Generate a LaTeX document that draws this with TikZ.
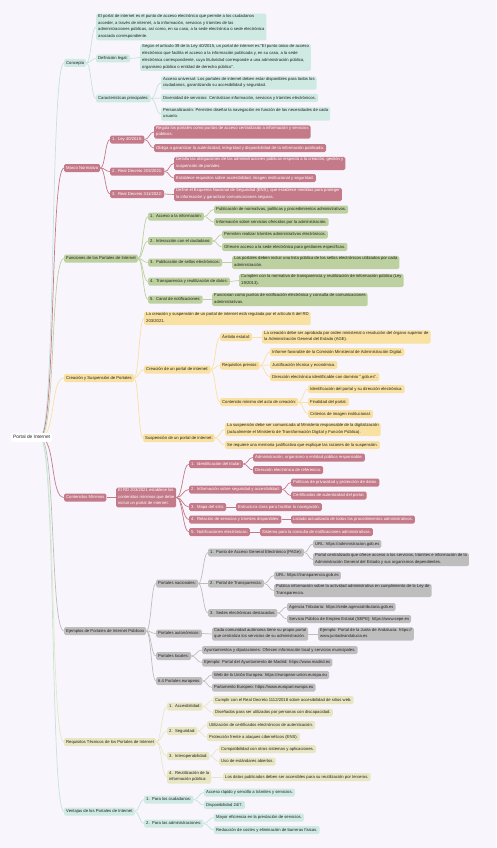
\documentclass[tikz,border=0pt]{standalone}
\usepackage{fontspec}
\setmainfont{Liberation Sans}
\usetikzlibrary{calc,backgrounds}
\definecolor{bgc}{HTML}{F8F6FC}
\definecolor{txt}{HTML}{222222}
\definecolor{tealf}{HTML}{CFE9E3}
\definecolor{teale}{HTML}{C3E4DD}
\definecolor{redf}{HTML}{C47A89}
\definecolor{greenf}{HTML}{BDD09F}
\definecolor{yellowf}{HTML}{F8E1A2}
\definecolor{grayf}{HTML}{BEBEBE}
\definecolor{khakif}{HTML}{E9E6C4}
\newcommand\lnk[3]{\draw[#1] let \p1=(#2.east), \p2=(#3.west) in (\p1) .. controls ({(\x1+\x2)/2},\y1) and ({(\x1+\x2)/2},\y2) .. (\p2);}
\newcommand\rlnk[2]{\draw[#1] let \p2=(#2.west) in (40,437.5) .. controls (56,437.5) and (50,\y2) .. (\p2);}
\begin{document}
\begin{tikzpicture}[x=1pt,y=-1pt,
  box/.style={anchor=west, align=left, rounded corners=1.5pt, inner xsep=2pt, inner ysep=0.6pt,
    font=\fontsize{4.2}{6.8}\selectfont, text=txt, execute at begin node=\strut, execute at end node=\strut},
  tl/.style={box, fill=tealf},
  rd/.style={box, fill=redf, text=white},
  gr/.style={box, fill=greenf},
  yl/.style={box, fill=yellowf},
  gy/.style={box, fill=grayf},
  kh/.style={box, fill=khakif},
  et/.style={draw=teale, line width=0.7pt},
  er/.style={draw=redf, line width=0.7pt},
  eg/.style={draw=greenf, line width=0.7pt},
  ey/.style={draw=yellowf, line width=0.7pt},
  ea/.style={draw=grayf, line width=0.7pt},
  ek/.style={draw=khakif, line width=0.7pt}]
\useasboundingbox (0,0) rectangle (496,848);
% root
\node[box, fill=white, font=\fontsize{4.8}{6.8}\selectfont, inner ysep=1pt] (root) at (11,437.5) {Portal de Internet};
% level 1
\node[tl] (c1) at (64,63) {Concepto};
\node[rd] (m1) at (64,168) {Marco Normativo};
\node[gr] (f1) at (64,258.5) {Funciones de los Portales de Internet};
\node[yl] (s1) at (64,378) {Creación y Suspensión de Portales};
\node[rd] (k1) at (64,497.5) {Contenidos Mínimos};
\node[gy] (e1) at (64,631) {Ejemplos de Portales de Internet Públicos};
\node[kh] (r1) at (64,742) {Requisitos Técnicos de los Portales de Internet};
\node[tl] (v1) at (64,811.5) {Ventajas de los Portales de Internet};
% Concepto
\node[tl] (c11) at (96,27) {El portal de internet es el punto de acceso electrónico que permite a los ciudadanos\\acceder, a través de internet, a la información, servicios y trámites de las\\administraciones públicas, así como, en su caso, a la sede electrónica o sede electrónica\\asociada correspondiente.};
\node[tl] (c12) at (96,58.5) {Definición legal:};
\node[tl] (c121) at (140,57.5) {Según el artículo 39 de la Ley 40/2015, un portal de internet es:"El punto único de acceso\\electrónico que facilita el acceso a la información publicada y, en su caso, a la sede\\electrónica correspondiente, cuya titularidad corresponde a una administración pública,\\organismo público o entidad de derecho público".};
\node[tl] (c13) at (96,98.5) {Características principales:};
\node[tl] (c131) at (161,83) {Acceso universal: Los portales de internet deben estar disponibles para todos los\\ciudadanos, garantizando su accesibilidad y seguridad.};
\node[tl] (c132) at (161,98) {Diversidad de servicios: Centralizan información, servicios y trámites electrónicos.};
\node[tl] (c133) at (161,114) {Personalización: Permiten diseñar la navegación en función de las necesidades de cada\\usuario.};
% Marco
\node[rd] (m11) at (110,139.5) {1.\ \ Ley 40/2015:};
\node[rd] (m111) at (154,132) {Regula los portales como puntos de acceso centralizado a información y servicios\\públicos.};
\node[rd] (m112) at (154,148) {Obliga a garantizar la autenticidad, integridad y disponibilidad de la información publicada.};
\node[rd] (m12) at (110,171.5) {2.\ \ Real Decreto 203/2021:};
\node[rd] (m121) at (174,163.5) {Detalla las obligaciones de las administraciones públicas respecto a la creación, gestión y\\suspensión de portales.};
\node[rd] (m122) at (174,178) {Establece requisitos sobre accesibilidad, imagen institucional y seguridad.};
\node[rd] (m13) at (110,194) {3.\ \ Real Decreto 311/2022:};
\node[rd] (m131) at (174,194.5) {Define el Esquema Nacional de Seguridad (ENS), que establece medidas para proteger\\la información y garantizar comunicaciones seguras.};
% Funciones
\node[gr] (f11) at (148,216.5) {1.\ \ Acceso a la información:};
\node[gr] (f111) at (214,209.5) {Publicación de normativas, políticas y procedimientos administrativos.};
\node[gr] (f112) at (214,222) {Información sobre servicios ofrecidos por la administración.};
\node[gr] (f12) at (148,241) {2.\ \ Interacción con el ciudadano:};
\node[gr] (f121) at (222,234.5) {Permiten realizar trámites administrativos electrónicos.};
\node[gr] (f122) at (222,247) {Ofrecen acceso a la sede electrónica para gestiones específicas.};
\node[gr] (f13) at (148,262.5) {3.\ \ Publicación de sellos electrónicos:};
\node[gr] (f131) at (232,262.5) {Los portales deben incluir una lista pública de los sellos electrónicos utilizados por cada\\administración.};
\node[gr] (f14) at (148,281.5) {4.\ \ Transparencia y reutilización de datos:};
\node[gr] (f141) at (239,280.5) {Cumplen con la normativa de transparencia y reutilización de información pública (Ley\\19/2013).};
\node[gr] (f15) at (148,299.5) {5.\ \ Canal de notificaciones:};
\node[gr] (f151) at (212,299.5) {Funcionan como puntos de notificación electrónica y consulta de comunicaciones\\administrativas.};
% Creacion
\node[yl] (s11) at (144,318.5) {La creación y suspensión de un portal de internet está regulada por el artículo 6 del RD\\203/2021.};
\node[yl] (s12) at (144,369.5) {Creación de un portal de internet:};
\node[yl] (s121) at (220,337) {Ámbito estatal:};
\node[yl] (s1211) at (262,337) {La creación debe ser aprobada por orden ministerial o resolución del órgano superior de\\la Administración General del Estado (AGE).};
\node[yl] (s122) at (220,365.5) {Requisitos previos:};
\node[yl] (s1221) at (270,352) {Informe favorable de la Comisión Ministerial de Administración Digital.};
\node[yl] (s1222) at (270,365) {Justificación técnica y económica.};
\node[yl] (s1223) at (270,377) {Dirección electrónica identificable con dominio ".gob.es".};
\node[yl] (s123) at (220,402) {Contenido mínimo del acto de creación:};
\node[yl] (s1231) at (308,389) {Identificación del portal y su dirección electrónica.};
\node[yl] (s1232) at (308,402) {Finalidad del portal.};
\node[yl] (s1233) at (308,414) {Criterios de imagen institucional.};
\node[yl] (s13) at (143,438) {Suspensión de un portal de internet:};
\node[yl] (s131) at (225,429.5) {La suspensión debe ser comunicada al Ministerio responsable de la digitalización\\(actualmente el Ministerio de Transformación Digital y Función Pública).};
\node[yl] (s132) at (225,445) {Se requiere una memoria justificativa que explique las razones de la suspensión.};
% Contenidos
\node[rd] (k11) at (116,497.5) {El RD 203/2021 establece los\\contenidos mínimos que debe\\incluir un portal de internet.};
\node[rd] (k111) at (189,464) {1.\ \ Identificación del titular:};
\node[rd] (k1111) at (253,457.5) {Administración, organismo o entidad pública responsable.};
\node[rd] (k1112) at (253,470) {Dirección electrónica de referencia.};
\node[rd] (k112) at (189,489.5) {2.\ \ Información sobre seguridad y accesibilidad:};
\node[rd] (k1121) at (291,482.5) {Políticas de privacidad y protección de datos.};
\node[rd] (k1122) at (291,495.5) {Certificados de autenticidad del portal.};
\node[rd] (k113) at (189,507) {3.\ \ Mapa del sitio:};
\node[rd] (k1131) at (236,507) {Estructura clara para facilitar la navegación.};
\node[rd] (k114) at (189,519.5) {4.\ \ Relación de servicios y trámites disponibles:};
\node[rd] (k1141) at (291,519.5) {Listado actualizado de todos los procedimientos administrativos.};
\node[rd] (k115) at (189,532) {5.\ \ Notificaciones electrónicas:};
\node[rd] (k1151) at (260,532) {Sistema para la consulta de notificaciones administrativas.};
% Ejemplos
\node[gy] (e11) at (156,583.5) {Portales nacionales:};
\node[gy] (e111) at (208,552.5) {1.\ \ Punto de Acceso General Electrónico (PAGe):};
\node[gy] (e1111) at (313,544) {URL: https://administracion.gob.es};
\node[gy] (e1112) at (313,559.5) {Portal centralizado que ofrece acceso a los servicios, trámites e información de la\\Administración General del Estado y sus organismos dependientes.};
\node[gy] (e112) at (208,583.5) {2.\ \ Portal de Transparencia:};
\node[gy] (e1121) at (274,575.5) {URL: https://transparencia.gob.es};
\node[gy] (e1122) at (274,590.5) {Publica información sobre la actividad administrativa en cumplimiento de la Ley de\\Transparencia.};
\node[gy] (e113) at (208,613) {3.\ \ Sedes electrónicas destacadas:};
\node[gy] (e1131) at (287,607) {Agencia Tributaria: https://sede.agenciatributaria.gob.es};
\node[gy] (e1132) at (287,619) {Servicio Público de Empleo Estatal (SEPE): https://www.sepe.es};
\node[gy] (e12) at (156,633.5) {Portales autonómicos:};
\node[gy] (e121) at (212,634) {Cada comunidad autónoma tiene su propio portal\\que centraliza los servicios de su administración.};
\node[gy] (e1211) at (318,634) {Ejemplo: Portal de la Junta de Andalucía: https://\\www.juntadeandalucia.es};
\node[gy] (e13) at (156,656) {Portales locales:};
\node[gy] (e131) at (202,650) {Ayuntamientos y diputaciones: Ofrecen información local y servicios municipales.};
\node[gy] (e132) at (202,662.5) {Ejemplo: Portal del Ayuntamiento de Madrid: https://www.madrid.es};
\node[gy] (e14) at (156,681) {6.4 Portales europeos:};
\node[gy] (e141) at (212,675) {Web de la Unión Europea: https://european-union.europa.eu};
\node[gy] (e142) at (212,687.5) {Parlamento Europeo: https://www.europarl.europa.eu};
% Requisitos
\node[kh] (r11) at (167,706.5) {1.\ \ Accesibilidad:};
\node[kh] (r111) at (213,700) {Cumplir con el Real Decreto 1112/2018 sobre accesibilidad de sitios web.};
\node[kh] (r112) at (213,712.5) {Diseñados para ser utilizados por personas con discapacidad.};
\node[kh] (r12) at (167,731) {2.\ \ Seguridad:};
\node[kh] (r121) at (207,725) {Utilización de certificados electrónicos de autenticación.};
\node[kh] (r122) at (207,737) {Protección frente a ataques cibernéticos (ENS).};
\node[kh] (r13) at (167,756) {3.\ \ Interoperabilidad:};
\node[kh] (r131) at (219,749) {Compatibilidad con otros sistemas y aplicaciones.};
\node[kh] (r132) at (219,761.5) {Uso de estándares abiertos.};
\node[kh] (r14) at (167,777) {4.\ \ Reutilización de la\\información pública:};
\node[kh] (r141) at (223,777) {Los datos publicados deben ser accesibles para su reutilización por terceros.};
% Ventajas
\node[tl] (v11) at (144,799.5) {1.\ \ Para los ciudadanos:};
\node[tl] (v111) at (204,792.5) {Acceso rápido y sencillo a trámites y servicios.};
\node[tl] (v112) at (204,805) {Disponibilidad 24/7.};
\node[tl] (v12) at (144,823.5) {2.\ \ Para las administraciones:};
\node[tl] (v121) at (214,817.5) {Mayor eficiencia en la prestación de servicios.};
\node[tl] (v122) at (214,830) {Reducción de costes y eliminación de barreras físicas.};
% edges
\begin{scope}[on background layer]
\fill[bgc] (0,0) rectangle (496,848);
\rlnk{et}{c1}\rlnk{er}{m1}\rlnk{eg}{f1}\rlnk{ey}{s1}\rlnk{er}{k1}\rlnk{ea}{e1}\rlnk{ek}{r1}\rlnk{et}{v1}
\lnk{et}{c1}{c11}\lnk{et}{c1}{c12}\lnk{et}{c1}{c13}\lnk{et}{c12}{c121}
\lnk{et}{c13}{c131}\lnk{et}{c13}{c132}\lnk{et}{c13}{c133}
\lnk{er}{m1}{m11}\lnk{er}{m1}{m12}\lnk{er}{m1}{m13}
\lnk{er}{m11}{m111}\lnk{er}{m11}{m112}\lnk{er}{m12}{m121}\lnk{er}{m12}{m122}\lnk{er}{m13}{m131}
\lnk{eg}{f1}{f11}\lnk{eg}{f1}{f12}\lnk{eg}{f1}{f13}\lnk{eg}{f1}{f14}\lnk{eg}{f1}{f15}
\lnk{eg}{f11}{f111}\lnk{eg}{f11}{f112}\lnk{eg}{f12}{f121}\lnk{eg}{f12}{f122}
\lnk{eg}{f13}{f131}\lnk{eg}{f14}{f141}\lnk{eg}{f15}{f151}
\lnk{ey}{s1}{s11}\lnk{ey}{s1}{s12}\lnk{ey}{s1}{s13}
\lnk{ey}{s12}{s121}\lnk{ey}{s12}{s122}\lnk{ey}{s12}{s123}\lnk{ey}{s121}{s1211}
\lnk{ey}{s122}{s1221}\lnk{ey}{s122}{s1222}\lnk{ey}{s122}{s1223}
\lnk{ey}{s123}{s1231}\lnk{ey}{s123}{s1232}\lnk{ey}{s123}{s1233}
\lnk{ey}{s13}{s131}\lnk{ey}{s13}{s132}
\lnk{er}{k1}{k11}
\lnk{er}{k11}{k111}\lnk{er}{k11}{k112}\lnk{er}{k11}{k113}\lnk{er}{k11}{k114}\lnk{er}{k11}{k115}
\lnk{er}{k111}{k1111}\lnk{er}{k111}{k1112}\lnk{er}{k112}{k1121}\lnk{er}{k112}{k1122}
\lnk{er}{k113}{k1131}\lnk{er}{k114}{k1141}\lnk{er}{k115}{k1151}
\lnk{ea}{e1}{e11}\lnk{ea}{e1}{e12}\lnk{ea}{e1}{e13}\lnk{ea}{e1}{e14}
\lnk{ea}{e11}{e111}\lnk{ea}{e11}{e112}\lnk{ea}{e11}{e113}
\lnk{ea}{e111}{e1111}\lnk{ea}{e111}{e1112}\lnk{ea}{e112}{e1121}\lnk{ea}{e112}{e1122}
\lnk{ea}{e113}{e1131}\lnk{ea}{e113}{e1132}
\lnk{ea}{e12}{e121}\lnk{ea}{e121}{e1211}
\lnk{ea}{e13}{e131}\lnk{ea}{e13}{e132}\lnk{ea}{e14}{e141}\lnk{ea}{e14}{e142}
\lnk{ek}{r1}{r11}\lnk{ek}{r1}{r12}\lnk{ek}{r1}{r13}\lnk{ek}{r1}{r14}
\lnk{ek}{r11}{r111}\lnk{ek}{r11}{r112}\lnk{ek}{r12}{r121}\lnk{ek}{r12}{r122}
\lnk{ek}{r13}{r131}\lnk{ek}{r13}{r132}\lnk{ek}{r14}{r141}
\lnk{et}{v1}{v11}\lnk{et}{v1}{v12}
\lnk{et}{v11}{v111}\lnk{et}{v11}{v112}\lnk{et}{v12}{v121}\lnk{et}{v12}{v122}
\end{scope}
\end{tikzpicture}
\end{document}
